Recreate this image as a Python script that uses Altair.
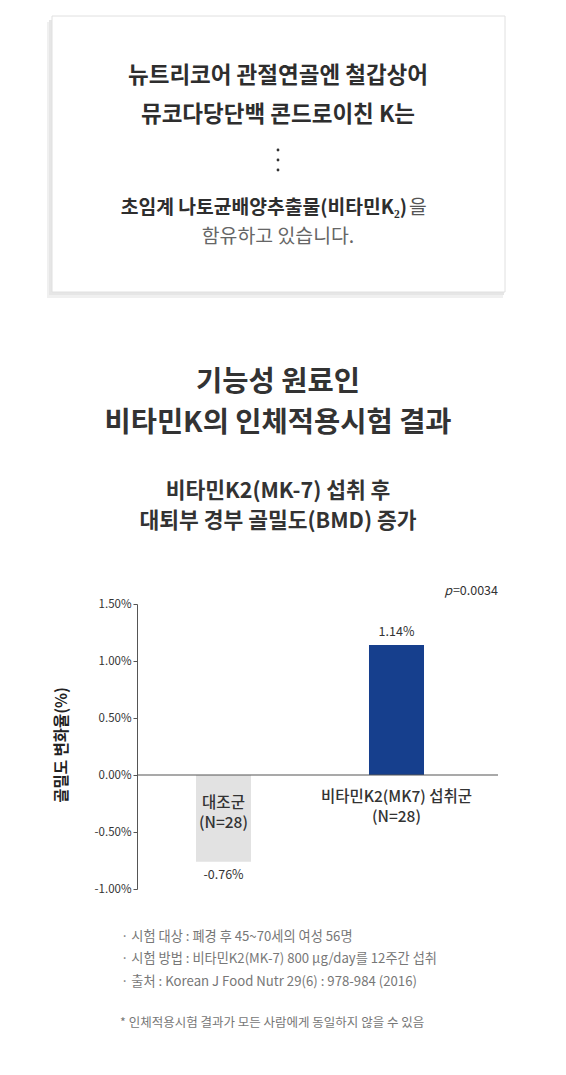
import altair as alt
import pandas as pd

FONT = "Noto Sans CJK KR"

# ---- data ----
categories = ["대조군", "비타민K2(MK7) 섭취군"]
values = [-0.76, 1.14]
value_labels = ["-0.76%", "1.14%"]
bar_colors = ["#e2e2e2", "#163f8d"]
cat_line1 = ["대조군", "비타민K2(MK7) 섭취군"]
cat_line2 = ["(N=28)", "(N=28)"]
y_ticks = [-1.0, -0.5, 0.0, 0.5, 1.0, 1.5]
y_title = "골밀도 변화율(%)"
p_value = "=0.0034"

card_lines_bold = ["뉴트리코어 관절연골엔 철갑상어", "뮤코다당단백 콘드로이친 K는"]
card_line3_bold = "초임계 나토균배양추출물(비타민K₂)"
card_line3_tail = "을"
card_line4 = "함유하고 있습니다."
title_lines = ["기능성 원료인", "비타민K의 인체적용시험 결과"]
subtitle_lines = ["비타민K2(MK-7) 섭취 후", "대퇴부 경부 골밀도(BMD) 증가"]
footnotes = [
    "· 시험 대상 : 폐경 후 45~70세의 여성 56명",
    "· 시험 방법 : 비타민K2(MK-7) 800 μg/day를 12주간 섭취",
    "· 출처 : Korean J Food Nutr 29(6) : 978-984 (2016)",
]
disclaimer = "* 인체적용시험 결과가 모든 사람에게 동일하지 않을 수 있음"

df = pd.DataFrame({"cat": categories, "val": values, "lab": value_labels,
                   "l1": cat_line1, "l2": cat_line2})

W, H = 361, 285
CX = 141  # centre of the page content in plot coordinates

xs = alt.X("cat:N", sort=categories, axis=None,
           scale=alt.Scale(domain=categories, range=[0, 346],
                           paddingInner=0.682, paddingOuter=0.341))
ys = alt.Y("val:Q", scale=alt.Scale(domain=[-1.0, 1.5], nice=False, zero=True),
           axis=alt.Axis(values=y_ticks, title=y_title,
                         labelExpr="datum.value < 0 ? '-' + format(-datum.value, '.2f') + '%' : format(datum.value, '.2f') + '%'",
                         grid=False, domainColor="#555", tickColor="#555", tickSize=4,
                         labelFontSize=11.5, labelColor="#333", labelPadding=2, labelFont=FONT,
                         titleFont=FONT, titleFontSize=15.5, titleFontWeight="bold", titleColor="#222",
                         titleAngle=-90, titleX=-76, titleY=H / 2 - 2, titleAlign="center",
                         titleBaseline="middle"))


def label(text, x, y, size, weight="normal", color="#333", align="center",
          baseline="middle", style="normal"):
    return alt.Chart(pd.DataFrame({"t": [text]})).mark_text(
        font=FONT, fontSize=size, fontWeight=weight, color=color, align=align,
        baseline=baseline, fontStyle=style
    ).encode(x=alt.value(x), y=alt.value(y), text="t:N")


def box(x, x2, y, y2, fill, stroke=None, opacity=1.0):
    kw = dict(fill=fill, opacity=opacity)
    if stroke:
        kw.update(stroke=stroke, strokeWidth=1)
    return alt.Chart(pd.DataFrame({"t": [0]})).mark_rect(**kw).encode(
        x=alt.value(x), x2=alt.value(x2), y=alt.value(y), y2=alt.value(y2))


def dot(x, y):
    return alt.Chart(pd.DataFrame({"t": [0]})).mark_circle(size=8, color="#333", opacity=1).encode(
        x=alt.value(x), y=alt.value(y))


layers = []
# card with shadow
layers.append(box(-90, 366, -582, -306, "#f0f0f0"))
layers.append(box(-88, 367, -584, -309, "#e6e6e6"))
layers.append(box(-85, 368, -588, -312, "#ffffff", stroke="#e0e0e0"))
layers.append(label(card_lines_bold[0], CX, -528, 22.5, "bold", "#2e2e2e"))
layers.append(label(card_lines_bold[1], CX, -489, 22.5, "bold", "#2e2e2e"))
for yy in (-454, -444, -434):
    layers.append(dot(CX, yy))
layers.append(label(card_line3_bold, 270, -396, 19.3, "bold", "#2e2e2e", align="right"))
layers.append(label(card_line3_tail, 272, -396, 19.3, "normal", "#555", align="left"))
layers.append(label(card_line4, CX, -367, 19.4, "normal", "#666"))

# titles
layers.append(label(title_lines[0], CX, -222, 28.5, "bold", "#333"))
layers.append(label(title_lines[1], CX, -181, 28.5, "bold", "#333"))
layers.append(label(subtitle_lines[0], CX, -112, 21.5, "bold", "#333"))
layers.append(label(subtitle_lines[1], CX, -82, 21.5, "bold", "#333"))

# p value
layers.append(label(p_value, W, -13, 12.5, "normal", "#333", align="right"))
layers.append(label("p", W - 46, -13, 12.5, "normal", "#333", align="right", style="italic"))

# footnotes
for t, yy in zip(footnotes, [333, 355, 378]):
    layers.append(label(t, -16, yy, 13.2, "normal", "#777", align="left"))
layers.append(label(disclaimer, -17, 419, 12.5, "normal", "#777", align="left"))

base = alt.Chart(df)
bars = base.mark_bar().encode(
    x=xs, y=ys,
    color=alt.Color("cat:N", scale=alt.Scale(domain=categories, range=bar_colors), legend=None))
zero = alt.Chart(pd.DataFrame({"z": [0]})).mark_rule(color="#555", strokeWidth=1.2).encode(
    y=alt.datum(0))
pos_lab = base.transform_filter("datum.val >= 0").mark_text(
    font=FONT, fontSize=12.5, color="#333", baseline="middle", dy=-13).encode(
    x=xs, y=alt.Y("val:Q"), text="lab:N")
neg_lab = base.transform_filter("datum.val < 0").mark_text(
    font=FONT, fontSize=12.5, color="#333", baseline="middle", dy=13).encode(
    x=xs, y=alt.Y("val:Q"), text="lab:N")

cat_layers = []
for c, o1 in zip(categories, [28, 22]):
    sub = base.transform_filter(alt.datum.cat == c)
    cat_layers.append(sub.mark_text(font=FONT, fontSize=15.5, fontWeight=500, color="#333",
                                    baseline="middle", dy=o1).encode(
        x=xs, y=alt.datum(0), text="l1:N"))
    cat_layers.append(sub.mark_text(font=FONT, fontSize=15.5, fontWeight=500, color="#333",
                                    baseline="middle", dy=o1 + 20).encode(
        x=xs, y=alt.datum(0), text="l2:N"))

chart = alt.layer(*layers, bars, zero, pos_lab, neg_lab, *cat_layers).properties(
    width=W, height=H,
    autosize=alt.AutoSizeParams(type="none"),
    padding={"left": 129, "top": 596, "right": 60, "bottom": 160},
    background="#ffffff",
).configure_view(stroke=None)

chart.save("out.html", embed_options={"renderer": "svg", "actions": False})
